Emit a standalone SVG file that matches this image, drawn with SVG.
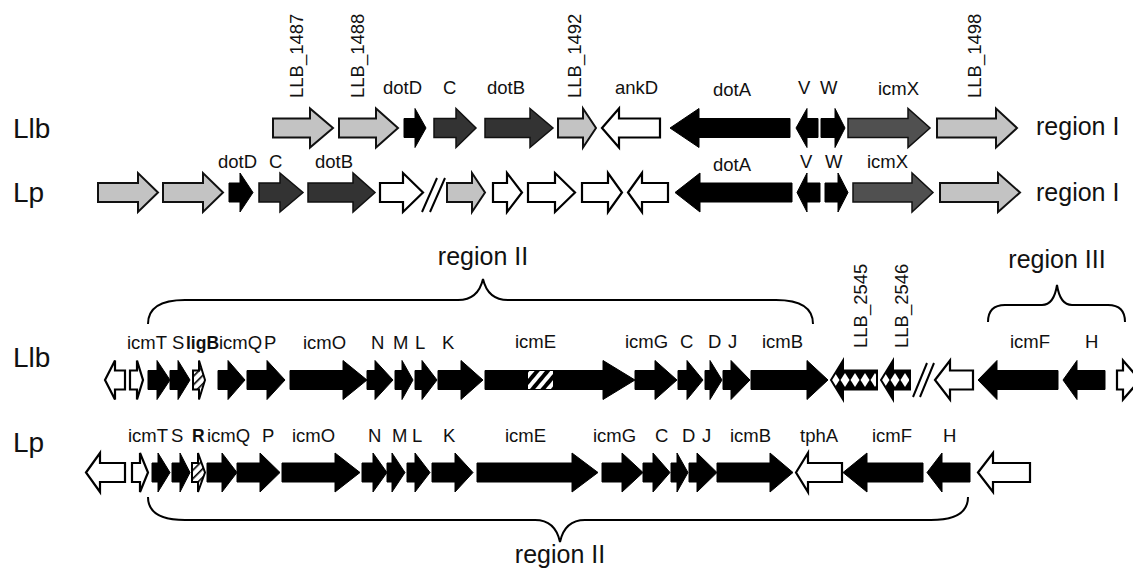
<svg xmlns="http://www.w3.org/2000/svg" width="1133" height="571" viewBox="0 0 1133 571">
  <style>
    text { font-family: "Liberation Sans", Arial, sans-serif; fill: #111; }
    .g { font-size: 18.5px; }
    .b { font-weight: bold; font-size: 17.5px; }
    .sp { font-size: 28px; }
    .rg { font-size: 25px; }
    .lg { fill: #c3c3c3; stroke: #111; stroke-width: 2; stroke-linejoin: miter; }
    .wh { fill: #fff; stroke: #000; stroke-width: 2.2; }
    .bk { fill: #000; stroke: #000; stroke-width: 1; }
    .dk { fill: #333; stroke: #111; stroke-width: 1.5; }
    .md { fill: #505050; stroke: #111; stroke-width: 1.5; }
    .ht { fill: url(#hatch); stroke: #000; stroke-width: 2; }
    .dm { fill: url(#diam); stroke: #000; stroke-width: 2; }
    .ln { fill: none; stroke: #000; stroke-width: 2; }
  </style>
  <defs>
    <pattern id="hatch" width="6" height="6" patternUnits="userSpaceOnUse" patternTransform="rotate(45)">
      <rect width="6" height="6" fill="#fff"/>
      <rect width="1.6" height="6" fill="#000"/>
    </pattern>
    <pattern id="stripe" width="8" height="8" patternUnits="userSpaceOnUse" patternTransform="rotate(40)">
      <rect width="8" height="8" fill="#fff"/>
      <rect width="4" height="8" fill="#000"/>
    </pattern>
    <pattern id="diam" x="0" y="360" width="10" height="40" patternUnits="userSpaceOnUse">
      <rect width="10" height="40" fill="#000"/>
      <polygon points="5,13 9.5,20 5,27 0.5,20" fill="#fff"/>
    </pattern>
  </defs>

  <!-- strain labels -->
  <g id="strain-labels">
    <text class="sp" x="13" y="138">Llb</text>
    <text class="sp" x="13" y="202">Lp</text>
    <text class="sp" x="13" y="367">Llb</text>
    <text class="sp" x="13" y="452">Lp</text>
  </g>

  <!-- region I, Llb -->
  <g id="llb-region1">
    <polygon class="lg" points="273,118.5 310,118.5 310,108.5 333,128 310,147.5 310,137.5 273,137.5"/>
    <polygon class="lg" points="339,118.5 376,118.5 376,108.5 398,128 376,147.5 376,137.5 339,137.5"/>
    <polygon class="bk" points="404,118.5 415,118.5 415,108.5 426,128 415,147.5 415,137.5 404,137.5"/>
    <polygon class="dk" points="434,118.5 456,118.5 456,108.5 476,128 456,147.5 456,137.5 434,137.5"/>
    <polygon class="dk" points="485,118.5 530,118.5 530,108.5 553,128 530,147.5 530,137.5 485,137.5"/>
    <polygon class="lg" points="558,118.5 583,118.5 583,108.5 596,128 583,147.5 583,137.5 558,137.5"/>
    <polygon class="wh" points="602,128 619,108.5 619,118.5 660,118.5 660,137.5 619,137.5 619,147.5"/>
    <polygon class="bk" points="670,128 699,108.5 699,118.5 790,118.5 790,137.5 699,137.5 699,147.5"/>
    <polygon class="bk" points="796,128 807,108.5 807,118.5 818,118.5 818,137.5 807,137.5 807,147.5"/>
    <polygon class="bk" points="821,118.5 835,118.5 835,108.5 845,128 835,147.5 835,137.5 821,137.5"/>
    <polygon class="md" points="848,118.5 908,118.5 908,108.5 930,128 908,147.5 908,137.5 848,137.5"/>
    <polygon class="lg" points="937,118.5 996,118.5 996,108.5 1017,128 996,147.5 996,137.5 937,137.5"/>
    <text class="g" transform="translate(303,98) rotate(-90)">LLB_1487</text>
    <text class="g" transform="translate(364,98) rotate(-90)">LLB_1488</text>
    <text class="g" transform="translate(581,98) rotate(-90)">LLB_1492</text>
    <text class="g" transform="translate(981,98) rotate(-90)">LLB_1498</text>
    <text class="g" x="383" y="94">dotD</text>
    <text class="g" x="443" y="94">C</text>
    <text class="g" x="487" y="94">dotB</text>
    <text class="g" x="615" y="94">ankD</text>
    <text class="g" x="713" y="96">dotA</text>
    <text class="g" x="798" y="94">V</text>
    <text class="g" x="820" y="94">W</text>
    <text class="g" x="878" y="95">icmX</text>
    <text class="rg" x="1036" y="135">region I</text>
  </g>

  <!-- region I, Lp -->
  <g id="lp-region1">
    <polygon class="lg" points="98,183 138,183 138,173 158,192.5 138,212 138,202 98,202"/>
    <polygon class="lg" points="163,183 203,183 203,173 223,192.5 203,212 203,202 163,202"/>
    <polygon class="bk" points="229,183 240,183 240,173 253,192.5 240,212 240,202 229,202"/>
    <polygon class="dk" points="259,183 280,183 280,173 303,192.5 280,212 280,202 259,202"/>
    <polygon class="dk" points="308,183 353,183 353,173 375,192.5 353,212 353,202 308,202"/>
    <polygon class="wh" points="380,183 403,183 403,173 423,192.5 403,212 403,202 380,202"/>
    <polygon class="lg" points="447,183 472,183 472,173 485,192.5 472,212 472,202 447,202"/>
    <polygon class="wh" points="493,183 507,183 507,173 522,192.5 507,212 507,202 493,202"/>
    <polygon class="wh" points="528,183 555,183 555,173 575,192.5 555,212 555,202 528,202"/>
    <polygon class="wh" points="582,183 608,183 608,173 622,192.5 608,212 608,202 582,202"/>
    <polygon class="wh" points="628,192.5 642,173 642,183 668,183 668,202 642,202 642,212"/>
    <polygon class="bk" points="675,192.5 700,173 700,183 792,183 792,202 700,202 700,212"/>
    <polygon class="bk" points="797,192.5 807,173 807,183 820,183 820,202 807,202 807,212"/>
    <polygon class="bk" points="825,183 838,183 838,173 848,192.5 838,212 838,202 825,202"/>
    <polygon class="md" points="853,183 912,183 912,173 933,192.5 912,212 912,202 853,202"/>
    <polygon class="lg" points="940,183 998,183 998,173 1020,192.5 998,212 998,202 940,202"/>
    <text class="g" x="218" y="168">dotD</text>
    <text class="g" x="269" y="168">C</text>
    <text class="g" x="315" y="168">dotB</text>
    <text class="g" x="713" y="171">dotA</text>
    <text class="g" x="800" y="168">V</text>
    <text class="g" x="825" y="168">W</text>
    <text class="g" x="867" y="168">icmX</text>
    <text class="rg" x="1036" y="201">region I</text>
  </g>

  <!-- region II / III, Llb -->
  <g id="llb-region2">
    <polygon class="wh" points="105,380 115,360.5 115,370.5 125,370.5 125,389.5 115,389.5 115,399.5"/>
    <polygon class="wh" points="130,370.5 137,370.5 137,360.5 143,380 137,399.5 137,389.5 130,389.5"/>
    <polygon class="bk" points="148,370.5 157,370.5 157,360.5 170,380 157,399.5 157,389.5 148,389.5"/>
    <polygon class="bk" points="170,370.5 178,370.5 178,360.5 190,380 178,399.5 178,389.5 170,389.5"/>
    <polygon class="ht" points="193,370.5 199,370.5 199,360.5 205,380 199,399.5 199,389.5 193,389.5"/>
    <polygon class="bk" points="218,370.5 228,370.5 228,360.5 245,380 228,399.5 228,389.5 218,389.5"/>
    <polygon class="bk" points="247,370.5 267,370.5 267,360.5 285,380 267,399.5 267,389.5 247,389.5"/>
    <polygon class="bk" points="290,370.5 343,370.5 343,360.5 367,380 343,399.5 343,389.5 290,389.5"/>
    <polygon class="bk" points="367,370.5 375,370.5 375,360.5 393,380 375,399.5 375,389.5 367,389.5"/>
    <polygon class="bk" points="395,370.5 402,370.5 402,360.5 413,380 402,399.5 402,389.5 395,389.5"/>
    <polygon class="bk" points="415,370.5 422,370.5 422,360.5 437,380 422,399.5 422,389.5 415,389.5"/>
    <polygon class="bk" points="438,370.5 461,370.5 461,360.5 483,380 461,399.5 461,389.5 438,389.5"/>
    <polygon class="bk" points="485,370.5 603,370.5 603,360.5 635,380 603,399.5 603,389.5 485,389.5"/>
    <rect x="528" y="371" width="25" height="18" fill="url(#stripe)"/>
    <polygon class="bk" points="635,370.5 655,370.5 655,360.5 677,380 655,399.5 655,389.5 635,389.5"/>
    <polygon class="bk" points="678,370.5 687,370.5 687,360.5 703,380 687,399.5 687,389.5 678,389.5"/>
    <polygon class="bk" points="705,370.5 710,370.5 710,360.5 722,380 710,399.5 710,389.5 705,389.5"/>
    <polygon class="bk" points="723,370.5 731,370.5 731,360.5 750,380 731,399.5 731,389.5 723,389.5"/>
    <polygon class="bk" points="751,370.5 807,370.5 807,360.5 828,380 807,399.5 807,389.5 751,389.5"/>
    <polygon class="dm" points="831,380 843,360.5 843,370.5 877,370.5 877,389.5 843,389.5 843,399.5"/>
    <polygon class="dm" points="881,380 893,360.5 893,370.5 910,370.5 910,389.5 893,389.5 893,399.5"/>
    <polygon class="wh" points="935,380 950,360.5 950,370.5 973,370.5 973,389.5 950,389.5 950,399.5"/>
    <polygon class="bk" points="978,380 997,360.5 997,370.5 1058,370.5 1058,389.5 997,389.5 997,399.5"/>
    <polygon class="bk" points="1063,380 1077,360.5 1077,370.5 1105,370.5 1105,389.5 1077,389.5 1077,399.5"/>
    <polygon class="wh" points="1117,370.5 1123,370.5 1123,360.5 1140,380 1123,399.5 1123,389.5 1117,389.5"/>
    <text class="g" x="127" y="349">icmT</text>
    <text class="g" x="172" y="349">S</text>
    <text class="g b" x="186" y="349">ligB</text>
    <text class="g" x="219" y="349">icmQ</text>
    <text class="g" x="264" y="349">P</text>
    <text class="g" x="303" y="349">icmO</text>
    <text class="g" x="371" y="349">N</text>
    <text class="g" x="393" y="349">M</text>
    <text class="g" x="415" y="349">L</text>
    <text class="g" x="442" y="349">K</text>
    <text class="g" x="515" y="348">icmE</text>
    <text class="g" x="625" y="348">icmG</text>
    <text class="g" x="680" y="348">C</text>
    <text class="g" x="708" y="348">D</text>
    <text class="g" x="728" y="348">J</text>
    <text class="g" x="762" y="348">icmB</text>
    <text class="g" transform="translate(867,348) rotate(-90)">LLB_2545</text>
    <text class="g" transform="translate(908,348) rotate(-90)">LLB_2546</text>
    <text class="g" x="1010" y="348">icmF</text>
    <text class="g" x="1085" y="348">H</text>
    <text class="rg" x="483" y="265" text-anchor="middle">region II</text>
    <text class="rg" x="1057" y="268" text-anchor="middle">region III</text>
  </g>

  <!-- region II, Lp -->
  <g id="lp-region2">
    <polygon class="wh" points="86,472.5 100,453 100,463 125,463 125,482 100,482 100,492"/>
    <polygon class="wh" points="132,463 140,463 140,453 148,472.5 140,492 140,482 132,482"/>
    <polygon class="bk" points="152,463 158,463 158,453 170,472.5 158,492 158,482 152,482"/>
    <polygon class="bk" points="172,463 180,463 180,453 190,472.5 180,492 180,482 172,482"/>
    <polygon class="ht" points="192,463 198,463 198,453 205,472.5 198,492 198,482 192,482"/>
    <polygon class="bk" points="207,463 222,463 222,453 237,472.5 222,492 222,482 207,482"/>
    <polygon class="bk" points="237,463 260,463 260,453 280,472.5 260,492 260,482 237,482"/>
    <polygon class="bk" points="282,463 335,463 335,453 360,472.5 335,492 335,482 282,482"/>
    <polygon class="bk" points="362,463 373,463 373,453 387,472.5 373,492 373,482 362,482"/>
    <polygon class="bk" points="387,463 392,463 392,453 405,472.5 392,492 392,482 387,482"/>
    <polygon class="bk" points="407,463 415,463 415,453 430,472.5 415,492 415,482 407,482"/>
    <polygon class="bk" points="432,463 455,463 455,453 473,472.5 455,492 455,482 432,482"/>
    <polygon class="bk" points="477,463 572,463 572,453 598,472.5 572,492 572,482 477,482"/>
    <polygon class="bk" points="602,463 622,463 622,453 643,472.5 622,492 622,482 602,482"/>
    <polygon class="bk" points="643,463 653,463 653,453 670,472.5 653,492 653,482 643,482"/>
    <polygon class="bk" points="671,463 677,463 677,453 688,472.5 677,492 677,482 671,482"/>
    <polygon class="bk" points="689,463 697,463 697,453 717,472.5 697,492 697,482 689,482"/>
    <polygon class="bk" points="717,463 770,463 770,453 793,472.5 770,492 770,482 717,482"/>
    <polygon class="wh" points="796,472.5 808,453 808,463 842,463 842,482 808,482 808,492"/>
    <polygon class="bk" points="843,472.5 867,453 867,463 923,463 923,482 867,482 867,492"/>
    <polygon class="bk" points="927,472.5 942,453 942,463 970,463 970,482 942,482 942,492"/>
    <polygon class="wh" points="978,472.5 993,453 993,463 1030,463 1030,482 993,482 993,492"/>
    <text class="g" x="128" y="442">icmT</text>
    <text class="g" x="171" y="442">S</text>
    <text class="g b" x="192" y="442">R</text>
    <text class="g" x="207" y="442">icmQ</text>
    <text class="g" x="262" y="442">P</text>
    <text class="g" x="292" y="442">icmO</text>
    <text class="g" x="368" y="442">N</text>
    <text class="g" x="392" y="442">M</text>
    <text class="g" x="412" y="442">L</text>
    <text class="g" x="443" y="442">K</text>
    <text class="g" x="505" y="442">icmE</text>
    <text class="g" x="593" y="442">icmG</text>
    <text class="g" x="655" y="442">C</text>
    <text class="g" x="682" y="442">D</text>
    <text class="g" x="702" y="442">J</text>
    <text class="g" x="730" y="442">icmB</text>
    <text class="g" x="800" y="442">tphA</text>
    <text class="g" x="872" y="442">icmF</text>
    <text class="g" x="943" y="442">H</text>
    <text class="rg" x="560" y="563" text-anchor="middle">region II</text>
  </g>

  <!-- braces and break marks -->
  <g id="connectors">
    <path class="ln" d="M148,324 C148,308 160,300 185,300 L458,300 C472,300 480,292 483,279 C486,292 494,300 508,300 L776,300 C801,300 813,308 813,324"/>
    <path class="ln" d="M988,322 C988,310 994,305 1005,305 L1042,305 C1050,305 1055,298 1057,285 C1059,298 1064,305 1072,305 L1108,305 C1119,305 1125,310 1125,322"/>
    <path class="ln" d="M148,497 C148,512 160,520 185,520 L535,520 C549,520 557,528 560,542 C563,528 571,520 585,520 L931,520 C956,520 968,512 968,497"/>
    <path class="ln" d="M422,212 L437,178 M430,212 L445,178"/>
    <path class="ln" d="M913,397 L927,363 M920,397 L934,363"/>
  </g>
</svg>
